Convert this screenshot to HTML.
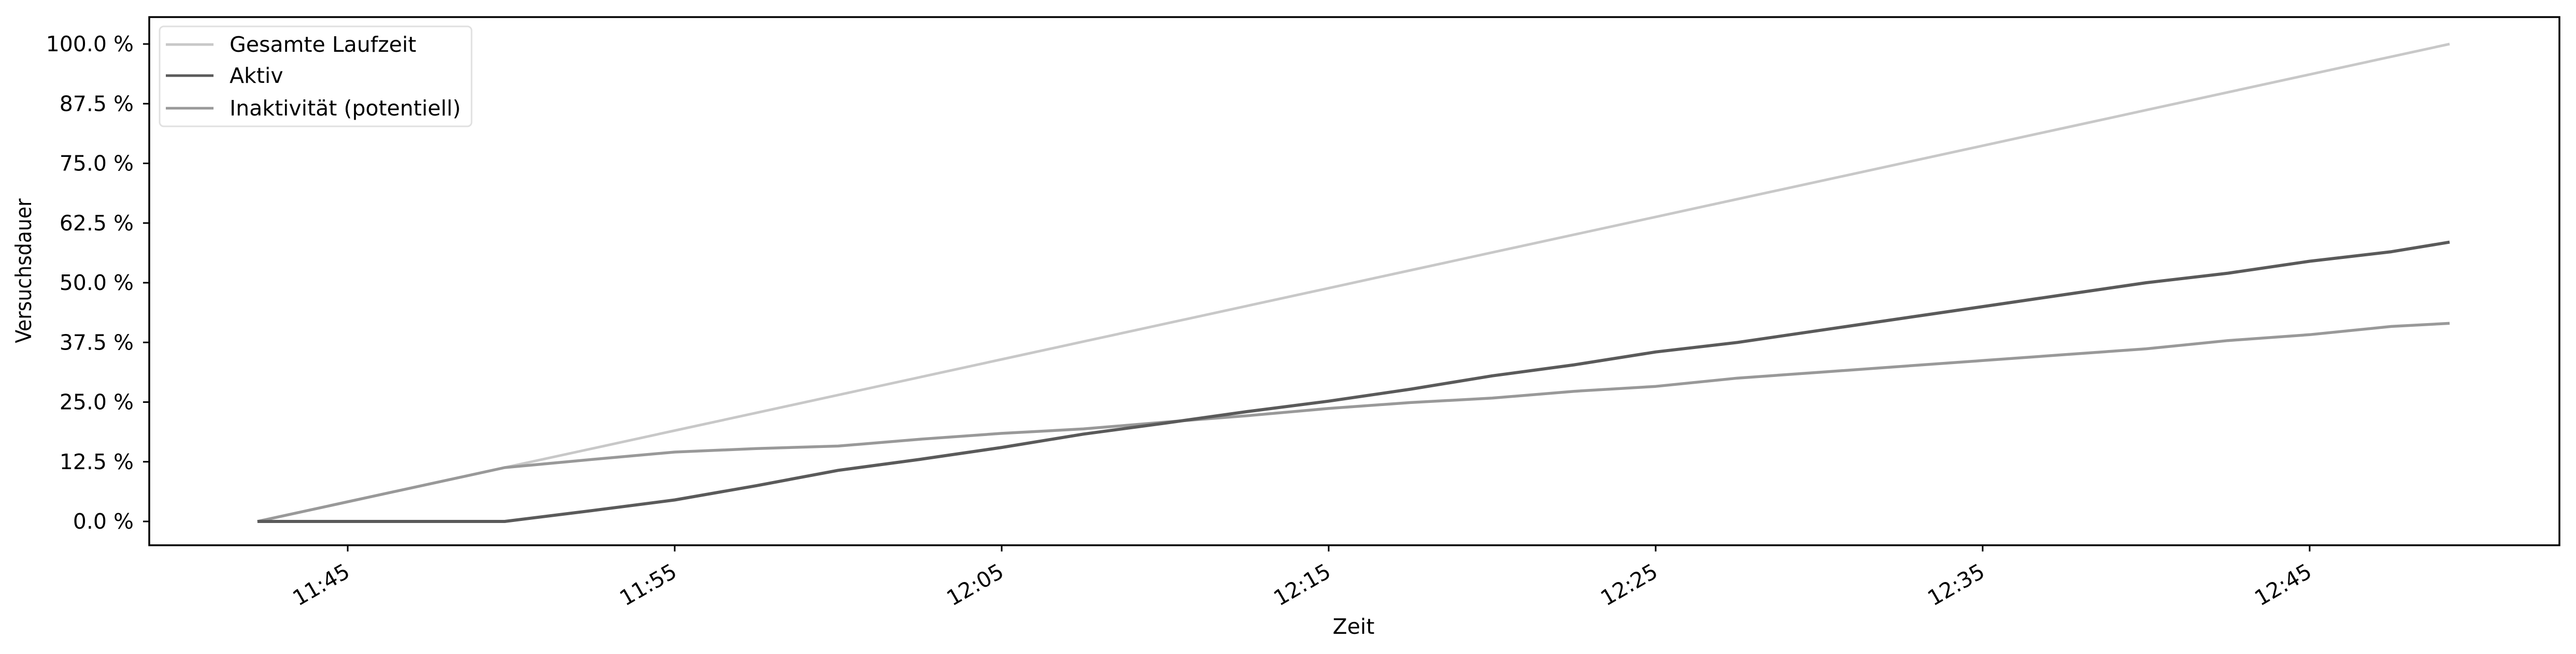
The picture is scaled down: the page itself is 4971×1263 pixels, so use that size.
<!DOCTYPE html>
<html><head><meta charset="utf-8"><style>
html,body{margin:0;padding:0;background:#fff;}
svg{display:block;font-family:"DejaVu Sans","Liberation Sans",sans-serif;}
</style></head><body>
<svg id="chart" width="4971" height="1263" viewBox="0 0 4971 1263" xmlns="http://www.w3.org/2000/svg">
<rect x="0" y="0" width="4971" height="1263" fill="#fff"/>
<g id="plot"></g>
<rect x="288" y="33" width="4651" height="1020" fill="none" stroke="#000" stroke-width="3.5"/>
<g id="yaxis"></g><g id="xaxis"></g>
<text x="2612" y="1224" font-size="41" text-anchor="middle">Zeit</text>
<text x="0" y="0" font-size="42" text-anchor="middle" style="font-stretch:condensed" transform="translate(60,523) rotate(-90)">Versuchsdauer</text>
<g>
<rect x="308" y="51" width="602" height="193" rx="8" fill="#fff" fill-opacity="0.8" stroke="#e0e0e0" stroke-width="3"/>
<g><line x1="320" y1="86" x2="412" y2="86" stroke="#c8c8c8" stroke-width="5"/><text x="443" y="100" font-size="41">Gesamte Laufzeit</text></g>
<g><line x1="320" y1="146" x2="412" y2="146" stroke="#5a5a5a" stroke-width="5"/><text x="443" y="160" font-size="41">Aktiv</text></g>
<g><line x1="320" y1="209" x2="412" y2="209" stroke="#999" stroke-width="5"/><text x="443" y="223" font-size="41">Inaktivität (potentiell)</text></g>
</g>
</svg>
<script>
// minutes since 11:00
const times = [42.24,49.8,52.5,55,57.5,60,62.5,65,67.5,70,72.5,75,77.5,80,82.5,85,87.5,90,92.5,95,97.5,100,102.5,105,107.5,109.28];
const gesamt = [0,11.28,15.30,19.03,22.76,26.49,30.22,33.95,37.68,41.41,45.14,48.87,52.60,56.33,60.06,63.79,67.52,71.24,74.97,78.70,82.43,86.16,89.89,93.62,97.35,100];
const aktiv = [0,0,2.3,4.5,7.5,10.7,13.0,15.5,18.3,20.6,23.0,25.2,27.7,30.5,32.8,35.5,37.5,40.0,42.5,45.0,47.5,50.0,52.0,54.5,56.5,58.5];
const inaktiv = [0,11.28,13.0,14.53,15.26,15.79,17.22,18.45,19.38,20.81,22.14,23.67,24.9,25.83,27.26,28.29,30.02,31.24,32.47,33.7,34.93,36.16,37.89,39.12,40.85,41.5];
const yTicks = [0,12.5,25,37.5,50,62.5,75,87.5,100];
const yTickLabels = ["0.0 %","12.5 %","25.0 %","37.5 %","50.0 %","62.5 %","75.0 %","87.5 %","100.0 %"];
const xTicks = [45,55,65,75,85,95,105];
const xTickLabels = ["11:45","11:55","12:05","12:15","12:25","12:35","12:45"];

const NS="http://www.w3.org/2000/svg";
function xs(m){return 671+(m-45)*63.1;}
function ys(v){return 1007-v*9.22;}
function mk(tag,attrs,parent){const e=document.createElementNS(NS,tag);for(const k in attrs)e.setAttribute(k,attrs[k]);parent.appendChild(e);return e;}

const plot=document.getElementById('plot');
function series(vals,color,name,w){
  const d=vals.map((v,i)=>(i?'L':'M')+xs(times[i]).toFixed(1)+' '+ys(v).toFixed(1)).join(' ');
  const p=mk('path',{d:d,fill:'none',stroke:color,'stroke-width':w,'stroke-linejoin':'round'},plot);
  
  
}
series(gesamt,'#c8c8c8','line-gesamte-laufzeit',5);
series(inaktiv,'#999999','line-inaktivitaet',5.5);
series(aktiv,'#5a5a5a','line-aktiv',6);

const ya=document.getElementById('yaxis');
yTicks.forEach((v,i)=>{
  const y=ys(v);
  const t=mk('line',{x1:276,y1:y,x2:288,y2:y,stroke:'#000','stroke-width':3},ya);
  
  
  const l=mk('text',{x:258,y:y+14,'font-size':41,'text-anchor':'end'},ya);
  l.textContent=yTickLabels[i];
  
  
});
const xa=document.getElementById('xaxis');
xTicks.forEach((m,i)=>{
  const x=xs(m);
  const t=mk('line',{x1:x,y1:1053,x2:x,y2:1065,stroke:'#000','stroke-width':3},xa);
  
  
  const l=mk('text',{x:0,y:0,'font-size':41,'text-anchor':'end',transform:'translate('+(x-8)+',1086) rotate(-30) translate(0,30)'},xa);
  l.textContent=xTickLabels[i];
  
  
});
</script>
</body></html>
